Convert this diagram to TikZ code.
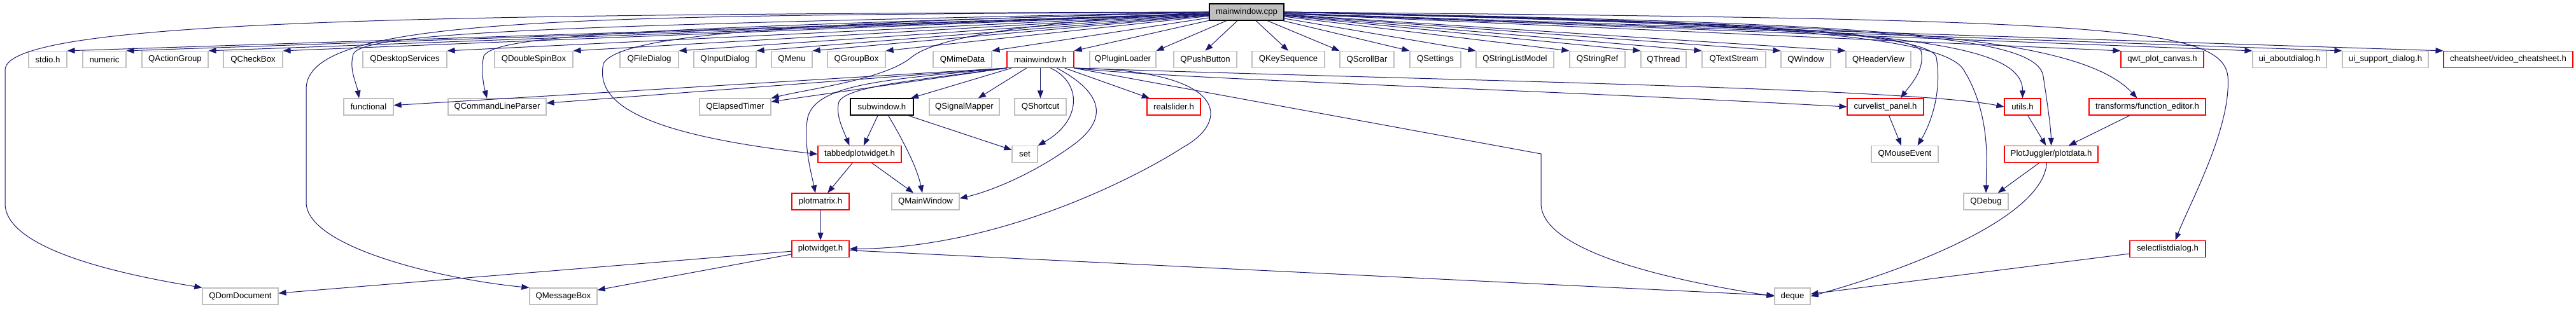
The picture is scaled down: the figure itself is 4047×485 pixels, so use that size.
\documentclass[tikz,border=0pt]{standalone}
\usepackage{fontspec}
\setmainfont{Liberation Sans}
\usetikzlibrary{arrows.meta}
\definecolor{edgeblue}{RGB}{25,25,112}
\definecolor{extgray}{RGB}{191,191,191}

\begin{document}
\begin{tikzpicture}[x=1pt,y=-1pt,font=\fontsize{13.2}{15}\selectfont,
    hbox/.style={draw=#1,line width=1.2pt,fill=white,minimum height=26pt,inner sep=0pt},
    dep/.style={edgeblue,line width=1pt,-{Triangle[length=12pt,width=9pt]}}]
  \useasboundingbox (0,0) rectangle (4047,485);
  \node[hbox=black,fill=extgray,minimum width=117] (cpp) at (1958.5,19) {mainwindow.cpp};
  \foreach \nm/\lbl/\xa/\xb/\col/\anc in {
      stdio/stdio.h/45/105/extgray/north east,
      numeric/numeric/130/198/extgray/north east,
      qactiongroup/QActionGroup/223/327/extgray/north east,
      qcheckbox/QCheckBox/351/444/extgray/north east,
      qdesktop/QDesktopServices/570/702/extgray/north east,
      qdoublespin/QDoubleSpinBox/777/900/extgray/north east,
      qfiledialog/QFileDialog/974/1066/extgray/north east,
      qinputdialog/QInputDialog/1090/1188/extgray/north east,
      qmenu/QMenu/1212/1276/extgray/north east,
      qgroupbox/QGroupBox/1300/1391/extgray/north east,
      qmimedata/QMimeData/1466/1558/extgray/north east,
      mainwindowh/mainwindow.h/1582/1687/red/north east,
      qpluginloader/QPluginLoader/1712/1816/extgray/north east,
      qpushbutton/QPushButton/1844/1943/extgray/north,
      qkeysequence/QKeySequence/1967/2081/extgray/north,
      qscrollbar/QScrollBar/2105/2190/extgray/north west,
      qsettings/QSettings/2215/2295/extgray/north west,
      qstringlistmodel/QStringListModel/2319/2441/extgray/north west,
      qstringref/QStringRef/2466/2553/extgray/north west,
      qthread/QThread/2578/2649/extgray/north west,
      qtextstream/QTextStream/2674/2774/extgray/north west,
      qwindow/QWindow/2798/2876/extgray/north west,
      qheaderview/QHeaderView/2900/3002/extgray/north west,
      qwtcanvas/qwt\_plot\_canvas.h/3332/3462/red/north west,
      uiabout/ui\_aboutdialog.h/3539/3655/extgray/north west,
      uisupport/ui\_support\_dialog.h/3680/3815/extgray/north west,
      cheatsheet/{cheatsheet/video\_cheatsheet.h}/3839/4042/red/north west}
  {
    \node[hbox=\col,minimum width=\xb-\xa] (\nm) at ({(\xa+\xb)/2},93.5) {\lbl};
    \draw[dep] (cpp) -- (\nm.\anc);
  }
  \foreach \nm/\lbl/\xa/\xb/\yy/\col in {
      functional/functional/540/618/168/extgray,
      qcmdparser/QCommandLineParser/704/858/168/extgray,
      qelapsed/QElapsedTimer/1099/1211/168/extgray,
      subwindow/subwindow.h/1336/1435/168/black,
      qsignalmapper/QSignalMapper/1460/1570/168/extgray,
      qshortcut/QShortcut/1594/1675/168/extgray,
      realslider/realslider.h/1802/1886/168/red,
      curvelist/curvelist\_panel.h/2902/3022/168/red,
      utils/utils.h/3149/3206/168/red,
      funceditor/{transforms/function\_editor.h}/3282/3465/168/red,
      tabbedplot/tabbedplotwidget.h/1285/1416/242.5/red,
      stdset/set/1590/1630/242.5/extgray,
      qmouseevent/QMouseEvent/2940/3045/242.5/extgray,
      plotdata/{PlotJuggler/plotdata.h}/3149/3296/242.5/red,
      plotmatrix/plotmatrix.h/1244/1334/317/red,
      qmainwindow/QMainWindow/1401/1507/317/extgray,
      qdebug/QDebug/3085/3155/317/extgray,
      plotwidget/plotwidget.h/1244/1334/391.5/red,
      selectlist/selectlistdialog.h/3346/3465/391.5/red,
      qdomdocument/QDomDocument/318/437/466/extgray,
      qmessagebox/QMessageBox/832/938/466/extgray,
      deque/deque/2788/2844/466/extgray}
    \node[hbox=\col,minimum width=\xb-\xa] (\nm) at ({(\xa+\xb)/2},\yy) {\lbl};

  \draw[dep] (cpp.west) .. controls (700,22) and (8,30) .. (8,110) -- (8,320) .. controls (8,390) and (180,430) .. (qdomdocument.north west);
  \draw[dep] (cpp.west) .. controls (900,25) and (481,25) .. (481,140) -- (481,318) .. controls (481,390) and (700,440) .. (qmessagebox.north west);
  \draw[dep] (cpp.west) .. controls (900,40) and (570,50) .. (555,85) .. controls (548,110) and (560,130) .. ([xshift=-15pt]functional.north);
  \draw[dep] (cpp.west) .. controls (1000,45) and (780,55) .. (760,88) .. controls (755,110) and (760,135) .. ([xshift=-16pt]qcmdparser.north);
  \draw[dep] (cpp.west) .. controls (1300,35) and (975,50) .. (948,100) .. controls (935,160) and (1000,210) .. (tabbedplot.west);
  \draw[dep] (cpp.west) .. controls (1700,30) and (1480,50) .. (1432,90) .. controls (1390,125) and (1270,140) .. (qelapsed.north east);
  \draw[dep] (cpp.east) .. controls (2600,30) and (3000,45) .. (3018,80) .. controls (3025,110) and (3000,135) .. ([xshift=24pt]curvelist.north);
  \draw[dep] (cpp.east) .. controls (2600,32) and (3030,45) .. (3042,90) .. controls (3052,150) and (3030,200) .. ([xshift=20pt]qmouseevent.north);
  \draw[dep] (cpp.east) .. controls (2700,35) and (3050,50) .. (3085,110) .. controls (3110,150) and (3121,200) .. (3121,250) -- (qdebug.north);
  \draw[dep] (cpp.east) .. controls (2900,42) and (3178,55) .. (utils.north);
  \draw[dep] (cpp.east) .. controls (2900,40) and (3200,50) .. (3210,120) .. controls (3216,160) and (3222,200) .. (plotdata.north);
  \draw[dep] (cpp.east) .. controls (2900,35) and (3260,50) .. ([xshift=-16pt]funceditor.north);
  \draw[dep] (cpp.east) .. controls (3300,30) and (3490,40) .. (3500,120) .. controls (3506,200) and (3440,320) .. ([xshift=12pt]selectlist.north);

  \draw[dep] (mainwindowh.south west) -- (functional);
  \draw[dep] (mainwindowh.south west) -- (qcmdparser);
  \draw[dep] (mainwindowh.south west) -- (qelapsed);
  \foreach \tg in {subwindow,qsignalmapper,qshortcut,realslider}
    \draw[dep] (mainwindowh) -- (\tg);
  \draw[dep] (mainwindowh.south east) .. controls (1850,125) and (2400,140) .. (curvelist.west);
  \draw[dep] (mainwindowh.south east) .. controls (2200,125) and (3000,138) .. (utils.west);
  \draw[dep] (mainwindowh.south east) -- (2421,242) -- (2421,320) .. controls (2421,400) and (2650,445) .. (deque.west);
  \draw[dep] ([xshift=16pt]mainwindowh.south) .. controls (1700,130) and (1700,190) .. (stdset.north east);
  \draw[dep] ([xshift=26pt]mainwindowh.south) .. controls (1740,150) and (1735,190) .. (1690,225) .. controls (1630,270) and (1560,300) .. ([yshift=5pt]qmainwindow.east);
  \draw[dep] (mainwindowh.south east) .. controls (1930,110) and (1935,190) .. (1858,232) .. controls (1800,270) and (1580,390) .. (plotwidget.east);
  \draw[dep] (mainwindowh.south west) .. controls (1450,125) and (1330,135) .. (1318,160) .. controls (1312,180) and (1325,205) .. ([xshift=-16pt]tabbedplot.north);
  \draw[dep] (mainwindowh.south west) .. controls (1400,125) and (1275,130) .. (1268,190) .. controls (1263,230) and (1274,270) .. ([xshift=-8pt]plotmatrix.north);

  \draw[dep] (subwindow) -- (tabbedplot);
  \draw[dep] (subwindow) -- (stdset);
  \draw[dep] ([xshift=10pt]subwindow.south) .. controls (1415,215) and (1440,260) .. ([xshift=-5pt]qmainwindow.north);
  \draw[dep] (tabbedplot) -- (plotmatrix);
  \draw[dep] (tabbedplot) -- (qmainwindow);
  \draw[dep] (plotmatrix) -- (plotwidget);
  \foreach \tg in {qdomdocument,qmessagebox,deque}
    \draw[dep] (plotwidget) -- (\tg);

  \draw[dep] (curvelist) -- (qmouseevent);
  \draw[dep] (utils) -- (plotdata);
  \draw[dep] (funceditor) -- (plotdata);
  \draw[dep] (plotdata) -- (qdebug);
  \draw[dep] ([xshift=-7pt]plotdata.south) .. controls (3210,340) and (3010,420) .. (deque.east);
  \draw[dep] (selectlist) -- (deque);
\end{tikzpicture}
\end{document}
